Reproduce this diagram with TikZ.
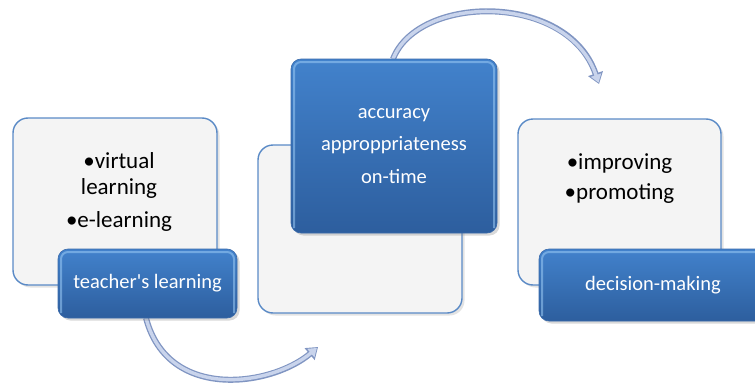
\documentclass[tikz,border=0pt]{standalone}
\usepackage{fontspec}
\setmainfont{Carlito}
\usetikzlibrary{arrows.meta,shadows}

\definecolor{panelfill}{HTML}{F4F4F4}
\definecolor{paneledge}{HTML}{5A8AC6}
\definecolor{bluetop}{HTML}{4282CC}
\definecolor{bluebottom}{HTML}{2D5E9E}
\definecolor{blueedge}{HTML}{3A6AAA}
\definecolor{bevellight}{HTML}{9CCBF5}
\definecolor{arrowdark}{HTML}{8095C2}
\definecolor{arrowlight}{HTML}{C9D4EC}

\tikzset{
  panel/.style={draw=paneledge, line width=1.4pt, fill=panelfill,
    rounded corners=15pt, inner sep=0pt,
    drop shadow={opacity=0.22, shadow xshift=2.5pt, shadow yshift=-2.5pt}},
  bluebox/.style={draw=blueedge, line width=0.6pt,
    top color=bluetop, bottom color=bluebottom,
    rounded corners=10pt, inner sep=0pt, text=white,
    font=\fontsize{20.5}{32.5}\selectfont, align=center,
    drop shadow={opacity=0.3, shadow xshift=2.5pt, shadow yshift=-2.5pt},
    path picture={
      \draw[bevellight, line width=2pt, opacity=0.55, rounded corners=7pt]
        ([xshift=3pt,yshift=5pt]path picture bounding box.south west) --
        ([xshift=3pt,yshift=-3pt]path picture bounding box.north west) --
        ([xshift=-3pt,yshift=-3pt]path picture bounding box.north east) --
        ([xshift=-3pt,yshift=5pt]path picture bounding box.south east);
    }},
  paneltext/.style={text=black, align=center, inner sep=0pt,
    font=\fontsize{23}{26}\selectfont},
  arrowrim/.style={draw=arrowdark, line width=6pt,
    -{Triangle[length=11pt,width=15pt]}},
  arrowcore/.style={draw=arrowlight, line width=3.4pt, shorten >=1.4pt,
    -{Triangle[length=8pt,width=10.5pt]}},
}

\begin{document}
\begin{tikzpicture}[x=1pt,y=-1pt]
\useasboundingbox (0,0) rectangle (755,388);

% first stage
\node[panel, minimum width=204pt, minimum height=167pt] (p1) at (115,201.5) {};
\node[paneltext] (t1) at (119,192)
  {\textbullet virtual\\learning\\[7pt]\textbullet e-learning};

% second stage (light panel behind the blue one)
\node[panel, minimum width=204pt, minimum height=168pt] (p2) at (360,229) {};

% third stage
\node[panel, minimum width=203pt, minimum height=166pt] (p3) at (619.5,202) {};
\node[paneltext] (t3) at (619.5,179)
  {\textbullet improving\\[4pt]\textbullet promoting};

% curved arrows between stages
\coordinate (topEnd) at (599,84);
\coordinate (botEnd) at (318,347);
\coordinate (topStart) at (393,59);
\coordinate (botStart) at (146,318);
\draw[arrowrim]  (topStart) .. controls (418,-6) and (568,-8) .. (topEnd);
\draw[arrowcore] (topStart) .. controls (418,-6) and (568,-8) .. (topEnd);
\draw[arrowrim]  (botStart) .. controls (168,402) and (272,386) .. (botEnd);
\draw[arrowcore] (botStart) .. controls (168,402) and (272,386) .. (botEnd);

% blue title boxes
\node[bluebox, minimum width=179pt, minimum height=69pt] (b1) at (147.5,283.5)
  {teacher\textquotesingle s learning};
\node[bluebox, minimum width=206pt, minimum height=174pt] (b2) at (394,146)
  {accuracy\\approppriateness\\on-time};
\node[bluebox, minimum width=228pt, minimum height=72pt] (b3) at (653,285)
  {decision-making};
\end{tikzpicture}
\end{document}
